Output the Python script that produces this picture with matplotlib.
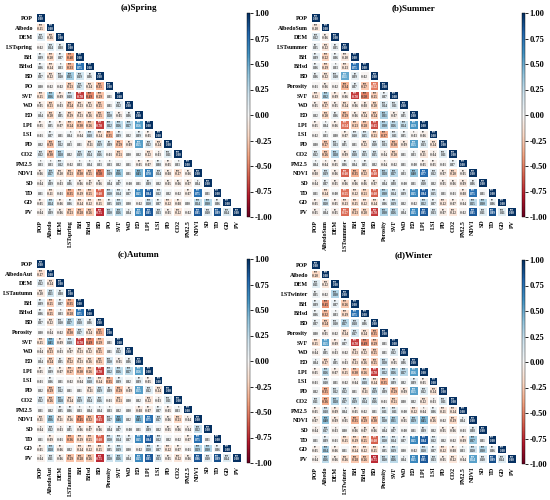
import matplotlib.pyplot as plt
import numpy as np

plt.rcParams['font.family'] = ['Liberation Serif', 'DejaVu Serif']
plt.rcParams['font.weight'] = 'bold'

base_vars = ['POP', 'Albedo', 'DEM', 'LST', 'BH', 'BHsd', 'BD', 'PO', 'SVF', 'WD', 'ED',
             'LPI', 'LSI', 'PD', 'CO2', 'PM2.5', 'NDVI', 'SD', 'TD', 'GD', 'PV']

labels_spring = ['POP', 'Albedo', 'DEM', 'LSTspring', 'BH', 'BHsd', 'BD', 'PO', 'SVF', 'WD', 'ED',
                 'LPI', 'LSI', 'PD', 'CO2', 'PM2.5', 'NDVI', 'SD', 'TD', 'GD', 'PV']
labels_summer = ['POP', 'AlbedoSum', 'DEM', 'LSTsummer', 'BH', 'BHsd', 'BD', 'Porosity', 'SVF', 'WD', 'ED',
                 'LPI', 'LSI', 'PD', 'CO2', 'PM2.5', 'NDVI', 'SD', 'TD', 'GD', 'PV']
labels_autumn = ['POP', 'AlbedoAut', 'DEM', 'LSTautumn', 'BH', 'BHsd', 'BD', 'Porosity', 'SVF', 'WD', 'ED',
                 'LPI', 'LSI', 'PD', 'CO2', 'PM2.5', 'NDVI', 'SD', 'TD', 'GD', 'PV']
labels_winter = ['POP', 'Albedo', 'DEM', 'LSTwinter', 'BH', 'BHsd', 'BD', 'Porosity', 'SVF', 'WD', 'ED',
                 'LPI', 'LSI', 'PD', 'CO2', 'PM2.5', 'NDVI', 'SD', 'TD', 'GD', 'PV']

# lower triangle rows (row i -> columns 0..i-1)
spring_rows = [
    [-0.15],
    [0.12, -0.16],
    [-0.02, 0.14, 0.08],
    [0.09, -0.20, 0.07, -0.40],
    [0.06, -0.14, 0.03, -0.33, 0.75],
    [0.07, -0.12, 0.10, 0.35, 0.19, 0.06],
    [0.00, -0.02, -0.02, -0.23, 0.17, -0.14, -0.35],
    [-0.15, 0.36, -0.09, 0.18, -0.70, -0.49, -0.29, 0.01],
    [-0.05, -0.21, -0.03, -0.24, -0.13, -0.12, -0.25, 0.01, 0.12],
    [0.04, -0.20, 0.05, -0.19, -0.13, -0.16, -0.25, 0.20, -0.05, 0.06],
    [-0.05, 0.05, -0.07, -0.24, -0.30, -0.26, -0.70, 0.22, 0.26, 0.27, 0.56],
    [-0.01, 0.07, 0.01, 0.04, -0.04, 0.18, -0.14, -0.35, 0.09, 0.02, 0.09, -0.05],
    [0.02, -0.29, 0.12, 0.03, 0.01, -0.11, 0.19, 0.09, -0.29, -0.09, 0.55, 0.12, -0.14],
    [0.12, -0.30, 0.28, 0.02, 0.19, 0.14, 0.16, -0.01, -0.21, 0.00, 0.02, -0.12, -0.03, 0.11],
    [0.03, 0.03, 0.12, -0.02, 0.03, 0.04, 0.03, 0.03, 0.02, 0.01, -0.05, -0.07, 0.08, -0.05, 0.03],
    [-0.06, 0.27, -0.10, -0.23, -0.30, -0.25, -0.50, 0.19, 0.36, 0.01, 0.45, 0.70, 0.14, -0.08, -0.17, -0.06],
    [-0.04, 0.09, -0.03, 0.06, -0.06, -0.07, -0.06, 0.04, 0.07, -0.00, 0.01, 0.09, 0.02, -0.05, -0.06, -0.07, 0.04],
    [0.01, -0.11, -0.01, -0.35, -0.19, -0.25, -0.60, 0.20, 0.14, 0.07, 0.65, 0.84, 0.12, 0.02, -0.02, -0.07, 0.75, 0.01],
    [-0.05, 0.24, -0.06, 0.06, -0.14, -0.12, -0.15, 0.05, 0.19, 0.00, -0.02, 0.20, 0.07, -0.12, -0.08, 0.00, 0.24, 0.30, 0.06],
    [-0.04, 0.09, -0.06, -0.23, -0.28, -0.26, -0.75, 0.20, 0.26, 0.04, 0.65, 0.85, 0.13, -0.05, -0.12, -0.02, 0.85, 0.10, 0.89, 0.14],
]

summer_rows = [
    [-0.10],
    [0.12, -0.06],
    [0.05, -0.12, 0.05],
    [0.09, -0.22, 0.06, -0.10],
    [0.06, -0.19, 0.03, -0.13, 0.75],
    [0.06, -0.12, 0.10, 0.51, 0.09, -0.02],
    [-0.01, -0.06, -0.02, -0.34, 0.07, -0.27, -0.52],
    [-0.12, 0.32, -0.09, -0.06, -0.70, -0.50, -0.25, 0.07],
    [-0.05, -0.17, -0.05, -0.14, -0.06, -0.08, -0.20, 0.14, 0.11],
    [0.02, -0.20, 0.06, -0.29, -0.06, -0.14, -0.24, 0.31, -0.07, 0.05],
    [-0.05, 0.04, -0.06, -0.54, -0.23, -0.28, -0.65, 0.30, 0.26, 0.24, 0.59],
    [-0.02, 0.03, 0.00, -0.07, 0.10, 0.15, -0.21, -0.37, 0.11, 0.05, -0.03, -0.06],
    [0.00, -0.27, 0.13, 0.05, 0.01, -0.12, 0.10, 0.13, -0.30, -0.09, 0.55, 0.13, -0.14],
    [0.12, -0.26, 0.28, -0.09, 0.18, 0.13, 0.15, -0.04, -0.20, 0.01, 0.03, -0.11, -0.04, 0.11],
    [0.04, -0.04, -0.05, 0.06, 0.04, 0.05, 0.02, -0.04, -0.02, 0.01, -0.00, -0.05, -0.05, -0.01, 0.07],
    [-0.08, 0.19, -0.06, -0.60, -0.35, -0.22, -0.60, 0.28, 0.27, 0.03, 0.40, 0.77, 0.12, -0.07, -0.20, -0.05],
    [-0.04, 0.07, -0.05, -0.06, -0.06, -0.06, -0.07, 0.04, 0.08, -0.00, 0.01, 0.10, 0.02, -0.05, -0.06, -0.09, 0.06],
    [0.01, -0.14, -0.00, -0.55, -0.12, -0.21, -0.60, 0.30, 0.14, 0.09, 0.65, 0.84, 0.15, 0.01, -0.01, -0.08, 0.75, 0.01],
    [-0.05, 0.20, -0.05, -0.13, -0.15, -0.12, -0.14, 0.06, 0.19, 0.02, -0.02, 0.22, 0.07, -0.12, -0.07, -0.04, 0.25, 0.30, 0.06],
    [-0.05, 0.04, -0.05, -0.57, -0.23, -0.20, -0.70, 0.30, 0.26, 0.04, 0.65, 0.85, 0.13, -0.07, -0.12, -0.02, 0.85, 0.11, 0.89, 0.11],
]

autumn_rows = [
    [-0.17],
    [0.12, -0.14],
    [-0.10, 0.21, 0.08],
    [0.09, -0.25, 0.07, -0.35],
    [0.06, -0.25, 0.03, -0.28, 0.75],
    [0.07, -0.12, 0.10, 0.27, 0.18, 0.06],
    [0.00, -0.04, -0.02, -0.30, 0.17, -0.14, -0.35],
    [-0.15, 0.45, -0.09, 0.18, -0.70, -0.49, -0.29, 0.01],
    [-0.04, -0.23, -0.03, -0.07, -0.13, -0.12, -0.25, 0.01, 0.12],
    [0.04, -0.24, 0.05, -0.22, -0.13, -0.16, -0.25, 0.20, -0.05, 0.06],
    [-0.05, 0.09, -0.07, -0.27, -0.30, -0.26, -0.70, 0.22, 0.26, 0.27, 0.56],
    [-0.01, 0.06, 0.01, -0.02, -0.04, 0.18, -0.14, -0.35, 0.09, 0.02, 0.09, -0.05],
    [0.02, -0.29, 0.12, 0.01, 0.01, -0.11, 0.19, 0.09, -0.29, -0.09, 0.55, 0.12, -0.14],
    [0.12, -0.26, 0.28, -0.14, 0.19, 0.14, 0.16, -0.01, -0.21, 0.00, 0.02, -0.12, -0.03, 0.11],
    [0.01, 0.02, 0.05, 0.06, 0.03, 0.04, 0.04, 0.03, 0.02, 0.00, -0.08, -0.07, 0.07, -0.05, 0.03],
    [-0.11, 0.36, -0.11, -0.16, -0.45, -0.32, -0.65, 0.17, 0.46, 0.02, 0.45, 0.75, 0.17, -0.06, -0.21, -0.04],
    [-0.04, 0.12, -0.03, 0.05, -0.06, -0.07, -0.06, 0.04, 0.07, -0.00, 0.01, 0.09, 0.02, -0.05, -0.06, -0.04, 0.22],
    [0.01, -0.09, -0.01, -0.36, -0.19, -0.25, -0.60, 0.20, 0.14, 0.07, 0.65, 0.84, 0.12, 0.02, -0.02, -0.07, 0.75, 0.01],
    [-0.05, 0.28, -0.06, 0.02, -0.14, -0.12, -0.15, 0.05, 0.19, 0.00, -0.02, 0.20, 0.07, -0.12, -0.07, -0.01, 0.29, 0.30, 0.06],
    [-0.04, 0.11, -0.06, -0.29, -0.28, -0.26, -0.75, 0.20, 0.26, 0.04, 0.65, 0.85, 0.13, -0.05, -0.12, -0.06, 0.86, 0.10, 0.89, 0.14],
]

winter_rows = [
    [-0.20],
    [0.11, -0.12],
    [0.05, -0.02, 0.30],
    [0.09, -0.45, 0.07, -0.26],
    [0.06, -0.32, 0.03, -0.19, 0.75],
    [0.07, -0.24, 0.10, 0.27, 0.18, 0.06],
    [0.00, -0.05, -0.02, -0.14, 0.17, -0.14, -0.35],
    [-0.15, 0.55, -0.09, 0.07, -0.70, -0.49, -0.29, 0.01],
    [-0.04, 0.05, -0.03, -0.02, -0.13, -0.12, -0.25, 0.01, 0.12],
    [0.04, -0.17, 0.05, -0.03, -0.13, -0.16, -0.25, 0.20, -0.05, 0.06],
    [-0.05, 0.26, -0.07, -0.15, -0.30, -0.26, -0.70, 0.22, 0.26, 0.27, 0.56],
    [-0.01, 0.10, 0.01, -0.02, -0.04, 0.18, -0.14, -0.35, 0.09, 0.02, 0.09, -0.05],
    [0.02, -0.35, 0.12, 0.12, 0.01, -0.11, 0.19, 0.09, -0.29, -0.09, 0.55, 0.12, -0.14],
    [0.11, -0.36, 0.28, 0.17, 0.19, 0.14, 0.16, -0.01, -0.21, 0.00, 0.02, -0.12, -0.03, 0.11],
    [-0.05, 0.18, -0.09, 0.04, -0.05, -0.02, 0.01, 0.11, 0.11, -0.00, -0.12, -0.04, 0.06, -0.11, -0.14],
    [-0.07, 0.40, -0.09, -0.05, -0.35, -0.29, -0.30, 0.20, 0.31, -0.05, 0.29, 0.45, -0.16, -0.02, -0.19, 0.04],
    [-0.04, 0.17, -0.03, 0.00, -0.06, -0.07, -0.06, 0.04, 0.07, -0.00, 0.01, 0.09, 0.02, -0.05, -0.06, -0.01, 0.08],
    [0.01, 0.09, -0.01, -0.15, -0.19, -0.25, -0.60, 0.20, 0.14, 0.07, 0.65, 0.84, 0.12, 0.02, -0.02, -0.09, 0.37, 0.01],
    [-0.05, 0.34, -0.06, 0.01, -0.14, -0.12, -0.15, 0.05, 0.19, 0.00, -0.02, 0.20, 0.07, -0.12, -0.08, 0.03, 0.20, 0.30, 0.06],
    [-0.04, 0.26, -0.06, -0.16, -0.28, -0.26, -0.75, 0.20, 0.26, 0.04, 0.65, 0.85, 0.13, -0.05, -0.12, -0.04, 0.54, 0.10, 0.89, 0.14],
]

titles = ['(a)Spring', '(b)Summer', '(c)Autumn', '(d)Winter']


def to_matrix(rows):
    n = len(rows) + 1
    m = np.full((n, n), np.nan)
    for i in range(n):
        m[i, i] = 1.0
    for i, r in enumerate(rows, start=1):
        m[i, :i] = r
    return m


def stars(v):
    a = abs(v)
    if a >= 0.1:
        return '***'
    if a >= 0.05:
        return '**'
    if a >= 0.03:
        return '*'
    return ''


def plot(ax, cax, rows, labels, title):
    m = to_matrix(rows)
    n = m.shape[0]
    mesh = ax.pcolormesh(np.ma.masked_invalid(m), cmap='RdBu', vmin=-1, vmax=1,
                         edgecolors='white', linewidth=0.3)
    for i in range(n):
        for j in range(i + 1):
            v = m[i, j]
            col = 'white' if abs(v) > 0.5 else '#333333'
            ax.text(j + 0.5, i + 0.3, stars(v), ha='center', va='center', fontsize=2, color=col)
            ax.text(j + 0.5, i + 0.62, '{:.2f}'.format(v), ha='center', va='center', fontsize=2.3, color=col)
    ax.set_xlim(0, n)
    ax.set_ylim(n, 0)
    ax.set_xticks(np.arange(n) + 0.5)
    ax.set_yticks(np.arange(n) + 0.5)
    ax.set_xticklabels(labels, rotation=90, fontsize=4.3, fontweight='bold')
    ax.set_yticklabels(labels, fontsize=4.3, fontweight='bold')
    ax.tick_params(length=0, pad=2)
    for s in ax.spines.values():
        s.set_visible(False)
    ax.set_title(title, fontsize=6.5, fontweight='bold', pad=2)
    cb = plt.colorbar(mesh, cax=cax, ticks=np.arange(-1, 1.01, 0.25), format='%.2f')
    cb.ax.tick_params(labelsize=6, length=2, width=0.6, pad=1)
    cb.outline.set_linewidth(0.3)
    for t in cb.ax.get_yticklabels():
        t.set_fontweight('bold')


fig = plt.figure(figsize=(5.5, 5.0), dpi=100)
positions = [(0.065, 0.566), (0.565, 0.566), (0.065, 0.074), (0.565, 0.072)]
all_rows = [spring_rows, summer_rows, autumn_rows, winter_rows]
all_labels = [labels_spring, labels_summer, labels_autumn, labels_winter]
for (l, b), rows, labs, t in zip(positions, all_rows, all_labels, titles):
    ax = fig.add_axes([l, b, 0.375, 0.408])
    cax = fig.add_axes([l + 0.384, b, 0.006, 0.408])
    plot(ax, cax, rows, labs, t)

plt.savefig('out.png', dpi=100)
